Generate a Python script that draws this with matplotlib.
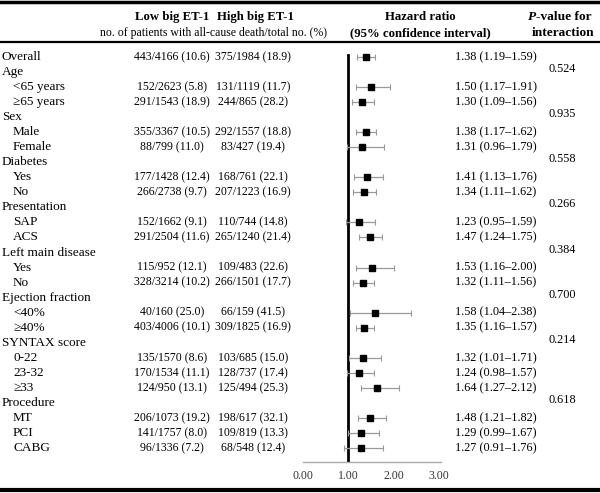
import matplotlib.pyplot as plt

plt.rcParams['font.family'] = ['Liberation Serif', 'DejaVu Serif']

# Table rows (label, is_header)
labels = ["Overall", "Age", "<65 years", "≥65 years", "Sex", "Male", "Female",
          "Diabetes", "Yes", "No", "Presentation", "SAP", "ACS",
          "Left main disease", "Yes", "No", "Ejection fraction", "<40%", "≥40%",
          "SYNTAX score", "0-22", "23-32", "≥33", "Procedure", "MT", "PCI", "CABG"]
is_group = [True, True, False, False, True, False, False,
            True, False, False, True, False, False,
            True, False, False, True, False, False,
            True, False, False, False, True, False, False, False]

low_et1 = ["443/4166 (10.6)", "", "152/2623 (5.8)", "291/1543 (18.9)", "",
           "355/3367 (10.5)", "88/799 (11.0)", "", "177/1428 (12.4)", "266/2738 (9.7)",
           "", "152/1662 (9.1)", "291/2504 (11.6)", "", "115/952 (12.1)",
           "328/3214 (10.2)", "", "40/160 (25.0)", "403/4006 (10.1)", "",
           "135/1570 (8.6)", "170/1534 (11.1)", "124/950 (13.1)", "",
           "206/1073 (19.2)", "141/1757 (8.0)", "96/1336 (7.2)"]
high_et1 = ["375/1984 (18.9)", "", "131/1119 (11.7)", "244/865 (28.2)", "",
            "292/1557 (18.8)", "83/427 (19.4)", "", "168/761 (22.1)", "207/1223 (16.9)",
            "", "110/744 (14.8)", "265/1240 (21.4)", "", "109/483 (22.6)",
            "266/1501 (17.7)", "", "66/159 (41.5)", "309/1825 (16.9)", "",
            "103/685 (15.0)", "128/737 (17.4)", "125/494 (25.3)", "",
            "198/617 (32.1)", "109/819 (13.3)", "68/548 (12.4)"]

# Hazard ratios (None for group header rows)
hr = [1.38, None, 1.50, 1.30, None, 1.38, 1.31, None, 1.41, 1.34, None, 1.23, 1.47,
      None, 1.53, 1.32, None, 1.58, 1.35, None, 1.32, 1.24, 1.64, None, 1.48, 1.29, 1.27]
ci_low = [1.19, None, 1.17, 1.09, None, 1.17, 0.96, None, 1.13, 1.11, None, 0.95, 1.24,
          None, 1.16, 1.11, None, 1.04, 1.16, None, 1.01, 0.98, 1.27, None, 1.21, 0.99, 0.91]
ci_high = [1.59, None, 1.91, 1.56, None, 1.62, 1.79, None, 1.76, 1.62, None, 1.59, 1.75,
           None, 2.00, 1.56, None, 2.38, 1.57, None, 1.71, 1.57, 2.12, None, 1.82, 1.67, 1.76]

p_values = {"Age": "0.524", "Sex": "0.935", "Diabetes": "0.558", "Presentation": "0.266",
            "Left main disease": "0.384", "Ejection fraction": "0.700",
            "SYNTAX score": "0.214", "Procedure": "0.618"}

x_ticks = [0, 1, 2, 3]

W, H = 600, 493
row0, step = 57, 15.04


def row_of(px):
    return (px - row0) / step


fig = plt.figure(figsize=(6, 4.93), dpi=100)
ax = fig.add_axes([0, 0, 1, 1])
ax.set_xlim(0, W)
ax.set_ylim(row_of(H), row_of(0))
ax.axis("off")

fs_lab = 9.5
fs_num = 8.5
fs_hr = 8.8
fs_head = 9.2

# horizontal rules
ax.plot([0, W], [row_of(2), row_of(2)], color="black", lw=2.5)
ax.plot([0, W], [row_of(42), row_of(42)], color="black", lw=1.6)
ax.plot([0, W], [row_of(490), row_of(490)], color="black", lw=3)

# header
ax.text(172, row_of(17), "Low big ET-1", ha="center", va="center", fontsize=fs_head, fontweight="bold")
ax.text(255, row_of(17), "High big ET-1", ha="center", va="center", fontsize=fs_head, fontweight="bold")
ax.text(213, row_of(33), "no. of patients with all-cause death/total no. (%)",
        ha="center", va="center", fontsize=fs_num)
ax.text(420, row_of(17), "Hazard ratio", ha="center", va="center", fontsize=fs_head, fontweight="bold")
ax.text(420, row_of(33), "(95% confidence interval)", ha="center", va="center",
        fontsize=fs_head, fontweight="bold")
ax.text(536, row_of(17), "P", ha="right", va="center", fontsize=fs_head + 0.4,
        fontweight="bold", fontstyle="italic")
ax.text(536, row_of(17), "-value for", ha="left", va="center", fontsize=fs_head + 0.4, fontweight="bold")
ax.text(563, row_of(33), "interaction", ha="center", va="center", fontsize=fs_head + 0.4, fontweight="bold")

for i, lab in enumerate(labels):
    x = 2 if is_group[i] else 13
    ax.text(x, i, lab, ha="left", va="center", fontsize=fs_lab)
    if low_et1[i]:
        ax.text(172, i, low_et1[i], ha="center", va="center", fontsize=fs_num)
        ax.text(253, i, high_et1[i], ha="center", va="center", fontsize=fs_num)
    if hr[i] is not None:
        ax.text(496, i, f"{hr[i]:.2f} ({ci_low[i]:.2f}\u2013{ci_high[i]:.2f})",
                ha="center", va="center", fontsize=fs_hr)
    if lab in p_values and is_group[i]:
        ax.text(562, i - 0.2, p_values[lab], ha="center", va="center", fontsize=fs_hr)

# forest plot
x0_px, x3_px = 303, 439
ax_bottom, ax_top = 462, 50
ax2 = fig.add_axes([x0_px / W, (H - ax_bottom) / H,
                    (x3_px - x0_px) / W * 3.04 / 3, (ax_bottom - ax_top) / H])
ax2.set_xlim(0, 3.04)
ax2.set_ylim(row_of(ax_bottom), row_of(ax_top))
ax2.patch.set_visible(False)
for s in ["top", "right", "left"]:
    ax2.spines[s].set_visible(False)
ax2.spines["bottom"].set_color("#aaaaaa")
ax2.spines["bottom"].set_linewidth(1)
ax2.set_yticks([])
ax2.set_xticks(x_ticks)
ax2.set_xticklabels([f"{t:.2f}" for t in x_ticks], fontsize=fs_num, color="#333333")
ax2.tick_params(axis="x", length=0, pad=6)

ax2.plot([1, 1], [-0.15, row_of(ax_bottom)], color="black", lw=2, zorder=2)

rows = [i for i in range(len(labels)) if hr[i] is not None]
xs = [hr[i] for i in rows]
lo = [hr[i] - ci_low[i] for i in rows]
hi = [ci_high[i] - hr[i] for i in rows]
ax2.errorbar(xs, rows, xerr=[lo, hi], fmt="s", color="black", markersize=4.5,
             ecolor="#999999", elinewidth=0.9, capsize=2.5, capthick=0.8, zorder=3)

fig.savefig("out.png", dpi=100)
